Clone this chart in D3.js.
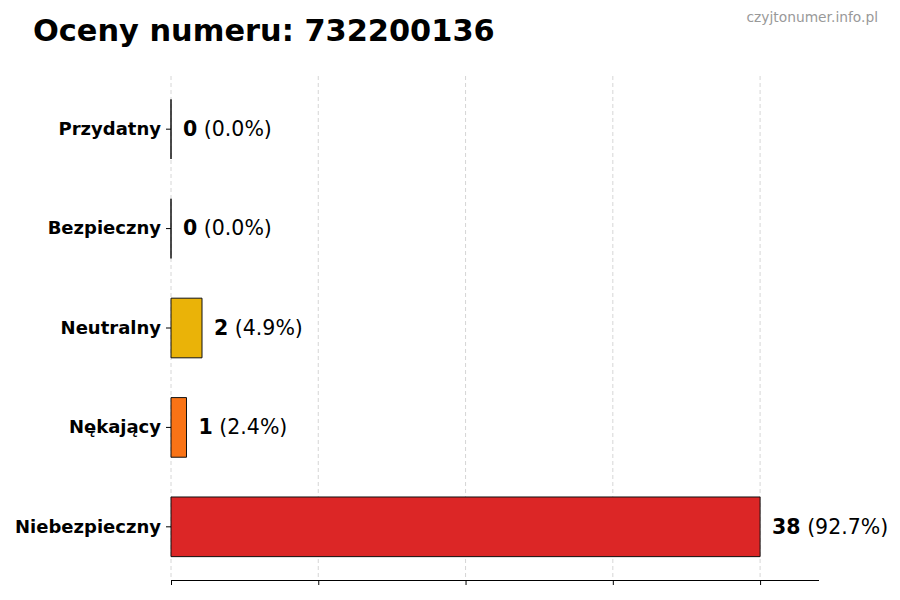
<!DOCTYPE html>
<html><head><meta charset="utf-8">
<script src="https://cdn.jsdelivr.net/npm/d3@7"></script>
<style>body{margin:0;background:#fff}svg{display:block}text{font-family:"DejaVu Sans",sans-serif}</style>
</head><body>
<svg id="c" width="900" height="600"></svg>
<script>
const categories = ["Przydatny", "Bezpieczny", "Neutralny", "Nękający", "Niebezpieczny"];
const values = [0, 0, 2, 1, 38];
const percents = ["0.0%", "0.0%", "4.9%", "2.4%", "92.7%"];
const colors = ["#22c55e", "#3b82f6", "#eab308", "#f97316", "#dc2626"];
const titleText = "Oceny numeru: 732200136";
const watermark = "czyjtonumer.info.pl";

const svg = d3.select("#c");
const pLeft = 171, pRight = 819, pTop = 76, pBottom = 580;
const maxV = d3.max(values);
const x = d3.scaleLinear().domain([0, maxV * 1.1]).range([pLeft, pRight]);
const y = d3.scaleBand().domain(categories).range([pTop, pBottom]).paddingInner(0.4).paddingOuter(0.235);

const ticks = [0, 0.25, 0.5, 0.75, 1].map(f => f * maxV);

svg.append("g").selectAll("line").data(ticks).join("line")
  .attr("x1", d => x(d)).attr("x2", d => x(d)).attr("y1", pTop).attr("y2", pBottom)
  .attr("stroke", "#cccccc").attr("stroke-width", 0.8).attr("stroke-dasharray", "4,3");

// bars as closed paths so zero-width bars still show their edge
svg.append("g").selectAll("path").data(categories).join("path")
  .attr("d", (d, i) => {
    const x0 = x(0), x1 = x(values[i]), y0 = y(d), y1 = y(d) + y.bandwidth();
    return `M${x0},${y0}H${x1}V${y1}H${x0}Z`;
  })
  .attr("fill", (d, i) => colors[i]).attr("stroke", "#111").attr("stroke-width", 1);

// bottom axis
const xa = svg.append("g").attr("transform", `translate(0,${pBottom})`)
  .call(d3.axisBottom(x).tickValues(ticks).tickSize(5).tickFormat(""));
xa.select(".domain").attr("stroke", "#000").attr("d", `M${pLeft},0.5H${pRight}`);
xa.selectAll(".tick line").attr("stroke", "#000");

// left axis ticks and labels
const ya = svg.append("g").attr("transform", `translate(${pLeft},0)`)
  .call(d3.axisLeft(y).tickSize(5).tickPadding(5));
ya.select(".domain").remove();
ya.selectAll(".tick line").attr("stroke", "#000");
ya.selectAll(".tick text").attr("font-size", 18).attr("font-weight", "bold").attr("fill", "#000")
  .attr("font-family", "DejaVu Sans");

// value labels
const lab = svg.append("g").selectAll("text").data(categories).join("text")
  .attr("x", (d, i) => x(values[i]) + 12)
  .attr("y", d => y(d) + y.bandwidth() / 2)
  .attr("dy", "0.33em").attr("font-size", 20.5).attr("fill", "#000");
lab.append("tspan").attr("font-weight", "bold").text((d, i) => values[i]);
lab.append("tspan").text((d, i) => " (" + percents[i] + ")");

svg.append("text").attr("x", 33).attr("y", 41).attr("font-size", 30.4).attr("font-weight", "bold")
  .attr("fill", "#000").text(titleText);
svg.append("text").attr("x", 878).attr("y", 22).attr("text-anchor", "end").attr("font-size", 13.8)
  .attr("fill", "#999").text(watermark);
</script>
</body></html>
